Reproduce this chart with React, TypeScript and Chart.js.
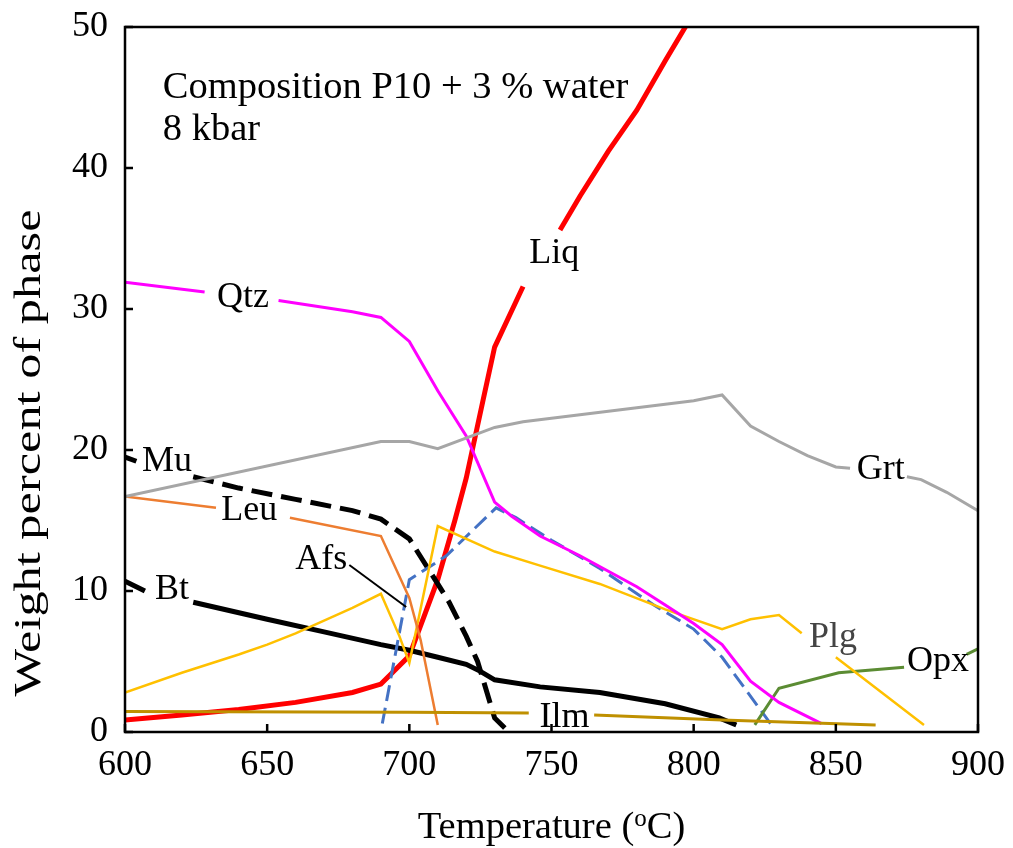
import React, { useEffect, useRef } from 'react';
import { Chart, registerables } from 'chart.js';

Chart.register(...registerables);

const FONT = "'Liberation Serif', 'Times New Roman', serif";

// Axis ticks
const xTicks = [600, 650, 700, 750, 800, 850, 900];
const yTicks = [0, 10, 20, 30, 40, 50];

// Series (temperature °C, weight %); null = gap behind a label
const liqT = [600, 620, 640, 660, 680, 690, 700, 710, 716, 720, 726, 730, 740, 746, 753, 760, 770, 780, 790, 800];
const liqW = [0.85, 1.2, 1.6, 2.1, 2.8, 3.4, 5.4, 10.8, 15.0, 18.0, 23.6, 27.3, 31.6, null, 35.6, 38.0, 41.2, 44.1, 47.6, 51.0];

const qtzT = [600, 628, 640, 654, 680, 690, 700, 710, 720, 730, 736, 746, 760, 770, 780, 790, 800, 810, 820, 830, 845];
const qtzW = [31.9, 31.2, null, 30.6, 29.8, 29.4, 27.7, 24.2, 21.0, 16.3, 15.3, 13.9, 12.5, 11.4, 10.3, 9.0, 7.7, 6.2, 3.6, 2.1, 0.6];

const grtT = [600, 690, 700, 710, 730, 740, 760, 780, 800, 810, 820, 830, 840, 850, 855, 865, 875, 880, 889, 900];
const grtW = [16.7, 20.6, 20.6, 20.1, 21.6, 22.0, 22.5, 23.0, 23.5, 23.9, 21.7, 20.6, 19.6, 18.8, 18.7, null, 18.1, 17.9, 17.0, 15.7];

const muT = [600, 604, 614, 624, 640, 660, 680, 690, 700, 710, 714, 720, 724, 730, 735];
const muW = [19.5, 19.2, null, 18.1, 17.3, 16.5, 15.7, 15.1, 13.7, 10.5, 9.2, 6.8, 5.0, 1.0, 0];

const leuT = [600, 632, 645, 658, 690, 700, 704, 710];
const leuW = [16.7, 15.9, null, 15.2, 13.9, 9.5, 6.5, 0.5];

const btT = [600, 607, 615, 624, 650, 670, 690, 700, 710, 720, 725, 730, 746, 767, 790, 809, 815];
const btW = [10.7, 10.0, null, 9.2, 8.0, 7.1, 6.2, 5.8, 5.3, 4.8, 4.3, 3.7, 3.2, 2.8, 2.0, 1.0, 0.5];

const afsT = [690.5, 700, 707, 713, 730.5, 737.5, 750, 767, 786, 800, 810, 827];
const afsW = [0.6, 10.8, 11.7, 12.5, 15.9, 15.2, 13.6, 11.6, 9.0, 7.3, 5.3, 0.6];

const plgT = [600, 620, 640, 650, 660, 670, 680, 690, 696.5, 700, 710, 730, 746, 767, 790, 810, 820, 830, 838, 844, 850, 881];
const plgW = [2.8, 4.2, 5.5, 6.2, 7.0, 7.9, 8.8, 9.8, 6.8, 4.9, 14.6, 12.8, 11.8, 10.5, 8.7, 7.3, 8.0, 8.3, 7.0, null, 5.3, 0.5];

const ilmT = [600, 700, 742, 753, 765, 810, 864];
const ilmW = [1.45, 1.4, 1.35, null, 1.2, 0.85, 0.5];

const opxT = [821.5, 830, 851, 874, 885, 896, 900];
const opxW = [0.5, 3.1, 4.2, 4.6, null, 5.5, 5.9];

// Phase labels (text, temperature, weight %)
const labelText = ['Qtz', 'Liq', 'Grt', 'Mu', 'Leu', 'Afs', 'Bt', 'Ilm', 'Plg', 'Opx'];
const labelT = [641.5, 751, 865.8, 614.8, 643.7, 669, 616.5, 754.6, 849, 885.9];
const labelW = [30.8, 33.9, 18.6, 19.2, 15.7, 12.2, 10.1, 1.06, 6.7, 5.0];

// Afs leader line
const afsLeaderT = [678.9, 698.9];
const afsLeaderW = [11.84, 8.87];

// Annotation
const noteLines = ['Composition P10 + 3 % water', '8 kbar'];
const noteT = 613.3;
const noteW = [45.0, 42.0];

function pts(t: number[], w: (number | null)[]) {
  return t.map((x, i) => ({ x, y: w[i] }));
}

const overlay = {
  id: 'overlay',
  afterDatasetsDraw(chart: any) {
    const { ctx, chartArea: a, scales } = chart;
    const xs = scales.x;
    const ys = scales.y;
    ctx.save();
    // frame
    ctx.strokeStyle = '#000';
    ctx.lineWidth = 2.5;
    ctx.strokeRect(a.left, a.top, a.right - a.left, a.bottom - a.top);
    // inside tick marks
    ctx.beginPath();
    xTicks.forEach((v) => {
      const px = xs.getPixelForValue(v);
      ctx.moveTo(px, a.bottom);
      ctx.lineTo(px, a.bottom - 8);
    });
    yTicks.forEach((v) => {
      const py = ys.getPixelForValue(v);
      ctx.moveTo(a.left, py);
      ctx.lineTo(a.left + 8, py);
    });
    ctx.stroke();
    // Afs leader
    ctx.lineWidth = 2;
    ctx.beginPath();
    ctx.moveTo(xs.getPixelForValue(afsLeaderT[0]), ys.getPixelForValue(afsLeaderW[0]));
    ctx.lineTo(xs.getPixelForValue(afsLeaderT[1]), ys.getPixelForValue(afsLeaderW[1]));
    ctx.stroke();
    // phase labels
    ctx.textAlign = 'center';
    ctx.textBaseline = 'middle';
    labelText.forEach((t, i) => {
      ctx.fillStyle = t === 'Plg' ? '#444' : '#000';
      ctx.font = `36px ${FONT}`;
      ctx.fillText(t, xs.getPixelForValue(labelT[i]), ys.getPixelForValue(labelW[i]));
    });
    // annotation
    ctx.textAlign = 'left';
    ctx.textBaseline = 'alphabetic';
    ctx.fillStyle = '#000';
    ctx.font = `38.5px ${FONT}`;
    noteLines.forEach((t, i) => {
      ctx.fillText(t, xs.getPixelForValue(noteT), ys.getPixelForValue(noteW[i]));
    });
    // x title with superscript o
    const cx = (a.left + a.right) / 2;
    const by = 838;
    ctx.font = `38.5px ${FONT}`;
    const p1 = 'Temperature (';
    const p3 = 'C)';
    const w1 = ctx.measureText(p1).width;
    const w3 = ctx.measureText(p3).width;
    ctx.font = `25px ${FONT}`;
    const w2 = ctx.measureText('o').width;
    let sx = cx - (w1 + w2 + w3) / 2;
    ctx.font = `38.5px ${FONT}`;
    ctx.fillText(p1, sx, by);
    sx += w1;
    ctx.font = `25px ${FONT}`;
    ctx.fillText('o', sx, by - 12);
    sx += w2;
    ctx.font = `38.5px ${FONT}`;
    ctx.fillText(p3, sx, by);
    // y title (stretched along its length)
    const yt = 'Weight percent of phase';
    ctx.font = `37px ${FONT}`;
    const tw = ctx.measureText(yt).width;
    ctx.translate(40, 453);
    ctx.rotate(-Math.PI / 2);
    ctx.scale(487 / tw, 1);
    ctx.textAlign = 'center';
    ctx.fillText(yt, 0, 0);
    ctx.restore();
  },
};

function zeroPad(s: any) {
  s.paddingTop = 0;
  s.paddingBottom = 0;
  s.paddingLeft = 0;
  s.paddingRight = 0;
}

export default function App() {
  const ref = useRef<HTMLCanvasElement>(null);
  useEffect(() => {
    if (!ref.current) return;
    const mk = (t: number[], w: (number | null)[], color: string, width: number, dash: number[] = []) => ({
      data: pts(t, w),
      borderColor: color,
      backgroundColor: color,
      borderWidth: width,
      borderDash: dash,
      pointRadius: 0,
      tension: 0,
      fill: false,
      spanGaps: false,
    });
    const chart = new Chart(ref.current, {
      type: 'line',
      data: {
        datasets: [
          mk(ilmT, ilmW, '#BF9000', 3),
          mk(grtT, grtW, '#A6A6A6', 3),
          mk(qtzT, qtzW, '#FF00FF', 3),
          mk(leuT, leuW, '#ED7D31', 2.5),
          mk(plgT, plgW, '#FFC000', 2.5),
          mk(opxT, opxW, '#5B8C33', 3),
          mk(afsT, afsW, '#4472C4', 3, [16, 7]),
          mk(btT, btW, '#000000', 5),
          mk(muT, muW, '#000000', 5, [21, 9]),
          mk(liqT, liqW, '#FF0000', 5),
        ] as any,
      },
      options: {
        animation: false,
        responsive: false,
        layout: { padding: { top: 27, right: 35, left: 0, bottom: 0 } },
        plugins: { legend: { display: false }, tooltip: { enabled: false } },
        scales: {
          x: {
            type: 'linear',
            min: 600,
            max: 900,
            grid: { display: false, drawTicks: false },
            border: { display: false },
            ticks: { stepSize: 50, font: { family: FONT, size: 36 }, color: '#000', padding: 12, maxRotation: 0, autoSkip: false },
            afterFit: (s: any) => { s.height = 116; zeroPad(s); },
          },
          y: {
            type: 'linear',
            min: 0,
            max: 50,
            grid: { display: false, drawTicks: false },
            border: { display: false },
            ticks: { stepSize: 10, font: { family: FONT, size: 36 }, color: '#000', padding: 17 },
            afterFit: (s: any) => { s.width = 125; zeroPad(s); },
          },
        },
      } as any,
      plugins: [overlay],
    });
    return () => chart.destroy();
  }, []);
  return (
    <div style={{ position: 'absolute', left: 0, top: 0, width: 1013, height: 848, background: '#fff' }}>
      <canvas ref={ref} width={1013} height={848} style={{ display: 'block' }} />
    </div>
  );
}
